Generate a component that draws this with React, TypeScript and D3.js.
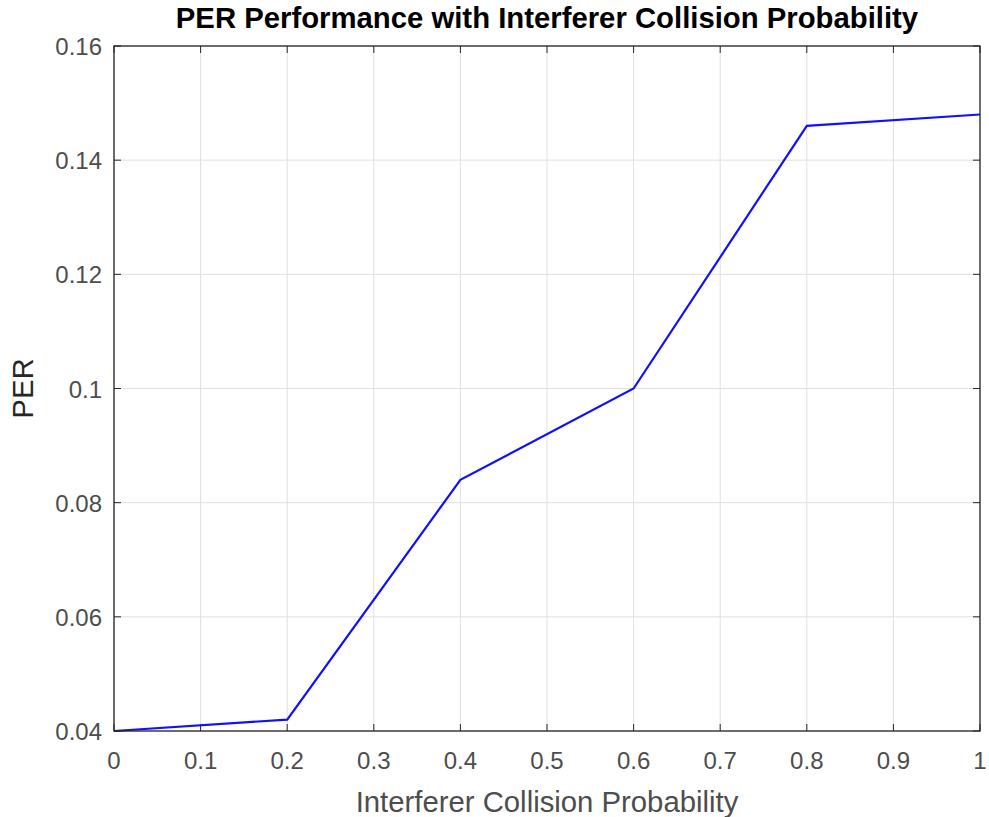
import React from "react";
import * as d3 from "d3";

const xValues = [0, 0.2, 0.4, 0.6, 0.8, 1.0];
const perValues = [0.04, 0.042, 0.084, 0.1, 0.146, 0.148];
const xTicks = [0, 0.1, 0.2, 0.3, 0.4, 0.5, 0.6, 0.7, 0.8, 0.9, 1];
const yTicks = [0.04, 0.06, 0.08, 0.1, 0.12, 0.14, 0.16];
const xTickLabels = ["0", "0.1", "0.2", "0.3", "0.4", "0.5", "0.6", "0.7", "0.8", "0.9", "1"];
const yTickLabels = ["0.04", "0.06", "0.08", "0.1", "0.12", "0.14", "0.16"];

const W = 989, H = 817;
const L = 114, R = 980, T = 46, B = 731;
const font = "'Liberation Sans', Arial, Helvetica, sans-serif";

export default function App() {
  const x = d3.scaleLinear().domain([0, 1]).range([L, R]);
  const y = d3.scaleLinear().domain([0.04, 0.16]).range([B, T]);
  const line = d3.line<number>().x((_, i) => x(xValues[i])).y((d) => y(d));
  const tk = 7;
  return (
    <svg width={W} height={H} style={{ position: "absolute", left: 0, top: 0, background: "#fff" }}>
      <rect x={0} y={0} width={W} height={H} fill="#fff" />
      {xTicks.map((t) => (
        <line key={"gx" + t} x1={x(t)} x2={x(t)} y1={T} y2={B} stroke="#dfdfdf" strokeWidth={1} />
      ))}
      {yTicks.map((t) => (
        <line key={"gy" + t} x1={L} x2={R} y1={y(t)} y2={y(t)} stroke="#dfdfdf" strokeWidth={1} />
      ))}
      {xTicks.map((t) => (
        <g key={"tx" + t}>
          <line x1={x(t)} x2={x(t)} y1={B} y2={B - tk} stroke="#262626" strokeWidth={1} />
          <line x1={x(t)} x2={x(t)} y1={T} y2={T + tk} stroke="#262626" strokeWidth={1} />
        </g>
      ))}
      {yTicks.map((t) => (
        <g key={"ty" + t}>
          <line x1={L} x2={L + tk} y1={y(t)} y2={y(t)} stroke="#262626" strokeWidth={1} />
          <line x1={R} x2={R - tk} y1={y(t)} y2={y(t)} stroke="#262626" strokeWidth={1} />
        </g>
      ))}
      <path d={line(perValues) || ""} fill="none" stroke="#1010ff" strokeWidth={2.2} />
      <rect x={L} y={T} width={R - L} height={B - T} fill="none" stroke="#262626" strokeWidth={1.3} />
      {xTicks.map((t, i) => (
        <text key={"lx" + t} x={x(t)} y={769} textAnchor="middle" fontFamily={font} fontSize={24} fill="#4d4d4d">
          {xTickLabels[i]}
        </text>
      ))}
      {yTicks.map((t, i) => (
        <text key={"ly" + t} x={L - 12} y={y(t) + 9} textAnchor="end" fontFamily={font} fontSize={24} fill="#4d4d4d">
          {yTickLabels[i]}
        </text>
      ))}
      <text x={(L + R) / 2} y={812} textAnchor="middle" fontFamily={font} fontSize={29.3} fill="#4d4d4d">
        Interferer Collision Probability
      </text>
      <text transform={`translate(33, ${(T + B) / 2}) rotate(-90)`} textAnchor="middle" fontFamily={font} fontSize={29.3} fill="#262626">
        PER
      </text>
      <text x={(L + R) / 2} y={28} textAnchor="middle" fontFamily={font} fontSize={29.3} fontWeight="bold" fill="#000">
        PER Performance with Interferer Collision Probability
      </text>
    </svg>
  );
}
